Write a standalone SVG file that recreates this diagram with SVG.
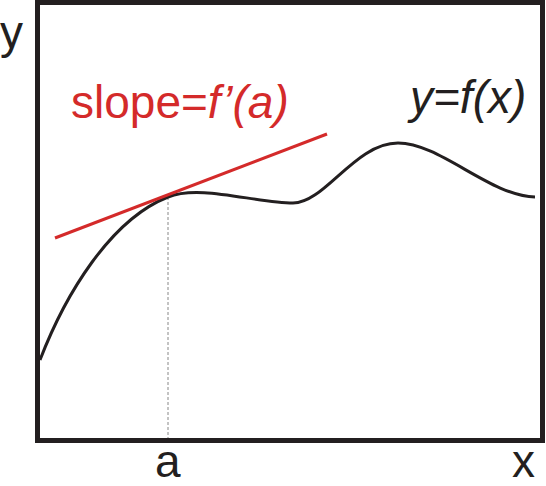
<svg xmlns="http://www.w3.org/2000/svg" width="546" height="486" viewBox="0 0 546 486">
<style>
.t{font-family:"Liberation Sans",Arial,sans-serif;font-size:46px;fill:#231f20}
.r{fill:#d42a2a}
.i{font-style:italic}
</style>
<rect width="546" height="486" fill="#fff"/>
<g id="axes">
<rect x="37.5" y="2.5" width="505" height="438" fill="none" stroke="#231f20" stroke-width="5"/>
</g>
<g id="connectors">
<line x1="168" y1="197" x2="168" y2="438" stroke="#888" stroke-width="1" stroke-dasharray="3,2"/>
<path d="M40,360 C65,295 110,220 168,197 C200,184 255,203 293,203 C325,203 355,143 398,143 C440,143 490,196 535,197" fill="none" stroke="#231f20" stroke-width="3"/>
<line x1="55" y1="238" x2="327" y2="134" stroke="#d42a2a" stroke-width="3"/>
</g>
<g id="labels">
<text class="t" x="0" y="48">y</text>
<text class="t r" x="71" y="118">slope=<tspan class="i">f’(a)</tspan></text>
<text class="t i" x="410" y="113">y=f(x)</text>
<text class="t" x="155" y="477">a</text>
<text class="t" x="512" y="477">x</text>
</g>
</svg>
